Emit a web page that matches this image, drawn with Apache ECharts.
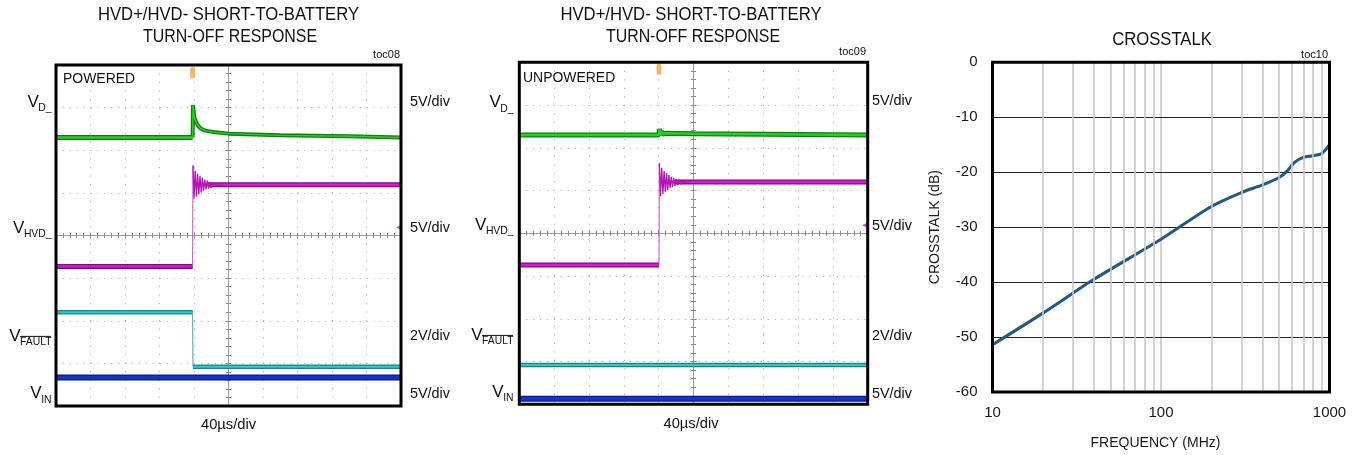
<!DOCTYPE html>
<html><head><meta charset="utf-8">
<script src="https://cdn.jsdelivr.net/npm/echarts@6/dist/echarts.min.js"></script>
<style>html,body{margin:0;padding:0;background:#fff}#c{width:1357px;height:455px}</style>
</head><body><div id="c"></div>
<script>
// ---------- DATA (scope traces in divisions, x: -5..5, y: -4..4) ----------
// Panel 1: POWERED
const p1_vd_pre  = [[-5,2.30],[-1.04,2.30]];
const p1_vd_post = [[-1.04,2.30],[-1.03,3.06],[-0.99,2.76],[-0.90,2.60],[-0.81,2.51],[-0.67,2.46],[-0.38,2.42],[0,2.39],[1.5,2.35],[3.5,2.33],[5,2.30]];
const p1_hvd_pre  = [[-5,-0.725],[-1.04,-0.725]];
const p1_hvd_edge = [[-1.04,-0.725],[-1.03,1.64]];
const p1_hvd_ring = [[-1.03,1.64],[-1.00,0.87],[-0.965,1.52],[-0.93,0.91],[-0.896,1.45],[-0.861,0.96],[-0.826,1.40],[-0.791,1.01],[-0.757,1.36],[-0.722,1.05],[-0.687,1.31],[-0.652,1.08],[-0.617,1.29],[-0.58,1.10],[-0.545,1.26],[-0.507,1.12],[-0.464,1.24],[-0.406,1.15],[-0.348,1.22],[-0.26,1.17],[-0.174,1.19]];
const p1_hvd_post = [[-0.60,1.19],[5,1.19]];
const p1_fault_pre  = [[-5,-1.80],[-1.04,-1.80]];
const p1_fault_edge = [[-1.04,-1.80],[-1.03,-3.08]];
const p1_fault_post = [[-1.03,-3.08],[5,-3.08]];
const p1_vin = [[-5,-3.33],[5,-3.33]];
const p1_trigger = [-1.04,3.82];
const p1_ground = [4.93,0.19];

// Panel 2: UNPOWERED
const p2_vd = [[-5,2.30],[-0.99,2.30],[-0.98,2.44],[-0.95,2.31],[-0.92,2.38],[-0.88,2.32],[-0.80,2.34],[0,2.33],[5,2.30]];
const p2_hvd_pre  = [[-5,-0.74],[-0.99,-0.74]];
const p2_hvd_edge = [[-0.99,-0.74],[-0.981,1.64]];
const p2_hvd_ring = [[-0.981,1.64],[-0.947,0.87],[-0.913,1.53],[-0.878,0.92],[-0.844,1.46],[-0.809,0.97],[-0.775,1.41],[-0.741,1.01],[-0.706,1.36],[-0.672,1.06],[-0.638,1.32],[-0.603,1.08],[-0.569,1.29],[-0.532,1.11],[-0.497,1.27],[-0.46,1.13],[-0.417,1.25],[-0.36,1.15],[-0.302,1.22],[-0.216,1.18],[-0.13,1.20]];
const p2_hvd_post = [[-0.55,1.20],[5,1.20]];
const p2_fault = [[-5,-3.08],[5,-3.08]];
const p2_vin = [[-5,-3.87],[5,-3.87]];
const p2_trigger = [-0.99,3.84];
const p2_ground = [4.91,0.19];

// Panel 3: CROSSTALK
const freqMHz     = [10,20,40,100,200,300,400,500,560,620,700,800,900,1000];
const crosstalkDb = [-51.4,-45.6,-39.5,-32.2,-26.2,-23.7,-22.3,-21.0,-19.8,-18.2,-17.3,-17.0,-16.6,-15.0];
const minorFreqs  = [20,30,40,50,60,70,80,90,200,300,400,500,600,700,800,900];
const yTicksDb    = [0,-10,-20,-30,-40,-50,-60];
const xTickLabels = [10,100,1000];

// ---------- TEXT ----------
const FONT = '"Liberation Sans", Arial, sans-serif';
const cv = document.createElement('canvas').getContext('2d');
function measure(t, size){ cv.font = size + 'px "Liberation Sans"'; return cv.measureText(t).width; }
const graphics = [];
function T(x, y, text, size, align, sx, color){
  graphics.push({type:'text', x:x, y:y, scaleX:sx||1, z:20,
    style:{text:text, fontSize:size, fontFamily:FONT, fill:color||'#111',
      align:align||'left', verticalAlign:'middle', textAlign:align||'left', textVerticalAlign:'middle'}});
}
function chanLabel(xr, vy, sub, over){
  const subSize = 11.5, subSx = 0.9;
  const ws = measure(sub, subSize) * subSx;
  const xs = xr - ws;
  T(xs + 0.5, vy, 'V', 17, 'right', 1);
  T(xs, vy + 6, sub, subSize, 'left', subSx);
  if (over) {
    const oy = vy + 6 - 4.3 - 1.6;
    graphics.push({type:'line', z:20, shape:{x1:xs, y1:oy, x2:xr - 0.5, y2:oy}, style:{stroke:'#111', lineWidth:1}});
  }
}
// Panel 1
T(228.5, 15, 'HVD+/HVD- SHORT-TO-BATTERY', 18.5, 'center', 0.9);
T(230, 37, 'TURN-OFF RESPONSE', 18.5, 'center', 0.86);
T(400, 55, 'toc08', 11, 'right', 1);
T(63, 78.5, 'POWERED', 15, 'left', 0.93);
chanLabel(51.5, 102, 'D_');
chanLabel(51.5, 228.3, 'HVD_');
chanLabel(51.5, 336.3, 'FAULT', true);
chanLabel(51.5, 393.7, 'IN');
T(410, 102, '5V/div', 15, 'left', 0.96);
T(410, 227.5, '5V/div', 15, 'left', 0.96);
T(410, 336, '2V/div', 15, 'left', 0.96);
T(410, 393.5, '5V/div', 15, 'left', 0.96);
T(228.5, 425, '40µs/div', 15, 'center', 0.98);
// Panel 2
T(691, 15, 'HVD+/HVD- SHORT-TO-BATTERY', 18.5, 'center', 0.9);
T(693, 37, 'TURN-OFF RESPONSE', 18.5, 'center', 0.86);
T(866, 52, 'toc09', 11, 'right', 1);
T(523, 77.5, 'UNPOWERED', 15, 'left', 0.93);
chanLabel(513.5, 102.5, 'D_');
chanLabel(513.5, 225.3, 'HVD_');
chanLabel(513.5, 335.3, 'FAULT', true);
chanLabel(513.5, 392, 'IN');
T(872, 101, '5V/div', 15, 'left', 0.96);
T(872, 226, '5V/div', 15, 'left', 0.96);
T(872, 336, '2V/div', 15, 'left', 0.96);
T(872, 393.5, '5V/div', 15, 'left', 0.96);
T(691, 423.5, '40µs/div', 15, 'center', 0.98);
// Panel 3
T(1162, 40, 'CROSSTALK', 18.5, 'center', 0.9);
T(1328, 55, 'toc10', 11, 'right', 1);

// ---------- AXES ----------
function scopeX(g, pos, split){
  return {gridIndex:g, type:'value', min:-5, max:5, interval:1, position:pos,
    axisLabel:{show:false},
    axisLine:{show:true, onZero:true, lineStyle:{color:'#9a9a9a', width:1}},
    axisTick:{show:true, length:3, lineStyle:{color:'#8a8a8a'}},
    minorTick:{show:true, splitNumber:5, length:2.5, lineStyle:{color:'#8a8a8a'}},
    splitLine:{show:split, lineStyle:{color:'#b0b0b0', width:1, type:[1.2,7.3]}}};
}
function scopeY(g, pos, split){
  return {gridIndex:g, type:'value', min:-4, max:4, interval:1, position:pos,
    axisLabel:{show:false},
    axisLine:{show:true, onZero:true, lineStyle:{color:'#9a9a9a', width:1}},
    axisTick:{show:true, length:3, lineStyle:{color:'#8a8a8a'}},
    minorTick:{show:true, splitNumber:5, length:2.5, lineStyle:{color:'#8a8a8a'}},
    splitLine:{show:split, lineStyle:{color:'#b0b0b0', width:1, type:[1.2,5.7]}}};
}

// ---------- SERIES ----------
const series = [];
function band(data, xi, yi, dark, bright, w, z){
  series.push({type:'line', xAxisIndex:xi, yAxisIndex:yi, data:data, symbol:'none', z:z, silent:true,
    lineStyle:{color:dark, width:w}});
  series.push({type:'line', xAxisIndex:xi, yAxisIndex:yi, data:data, symbol:'none', z:z+0.1, silent:true,
    lineStyle:{color:bright, width:Math.max(1, w-2.6)}});
}
function thin(data, xi, yi, color, w, z){
  series.push({type:'line', xAxisIndex:xi, yAxisIndex:yi, data:data, symbol:'none', z:z, silent:true,
    lineStyle:{color:color, width:w}});
}
const G = {dark:'#0d7f0d', bright:'#25cf25'}, M = {dark:'#8e008e', bright:'#cf20cf'},
      C = {dark:'#148787', bright:'#34c6c6'}, B = {dark:'#0a1a96', bright:'#1733c4'};
// panel 1
band(p1_vin, 0, 0, B.dark, B.bright, 6, 3);
band(p1_fault_pre, 0, 0, C.dark, C.bright, 4.5, 4);
thin(p1_fault_edge, 0, 0, '#3aa9a9', 1, 4);
band(p1_fault_post, 0, 0, C.dark, C.bright, 4.5, 4);
band(p1_hvd_pre, 0, 0, M.dark, M.bright, 5, 5);
thin(p1_hvd_edge, 0, 0, '#c94ac9', 1, 5);
band(p1_hvd_post, 0, 0, M.dark, M.bright, 5, 5);
thin(p1_hvd_ring, 0, 0, '#b414b4', 1.3, 5.5);
band(p1_vd_pre, 0, 0, G.dark, G.bright, 5, 6);
band(p1_vd_post, 0, 0, G.dark, G.bright, 4, 6);
// panel 2
band(p2_vin, 2, 2, B.dark, B.bright, 6, 3);
band(p2_fault, 2, 2, C.dark, C.bright, 4.5, 4);
band(p2_hvd_pre, 2, 2, M.dark, M.bright, 5, 5);
thin(p2_hvd_edge, 2, 2, '#c94ac9', 1, 5);
band(p2_hvd_post, 2, 2, M.dark, M.bright, 5, 5);
thin(p2_hvd_ring, 2, 2, '#b414b4', 1.3, 5.5);
band(p2_vd, 2, 2, G.dark, G.bright, 5, 6);
// markers (trigger + ground reference)
function markers(xi, yi, trig, gnd){
  series.push({type:'scatter', xAxisIndex:xi, yAxisIndex:yi, z:7, silent:true,
    data:[{value:trig, symbol:'roundRect', symbolSize:[5,11], itemStyle:{color:'#f2a23a'}},
          {value:gnd, symbol:'triangle', symbolRotate:90, symbolSize:[5,5], itemStyle:{color:'#c21cc2'}}]});
}
markers(0, 0, p1_trigger, p1_ground);
markers(2, 2, p2_trigger, p2_ground);
// panel 3
series.push({type:'line', xAxisIndex:4, yAxisIndex:4, data:[], z:1, silent:true,
  markLine:{silent:true, symbol:['none','none'], label:{show:false}, animation:false,
    lineStyle:{color:'#c8c8c8', width:1.6, type:'solid'},
    data:minorFreqs.map(v => ({xAxis:v}))}});
series.push({type:'line', xAxisIndex:4, yAxisIndex:4, z:3, silent:true, symbol:'none',
  smooth:0.3,
  data:freqMHz.map((f,i) => [f, crosstalkDb[i]]),
  lineStyle:{color:'#245783', width:3}});

const option = {
  animation:false,
  backgroundColor:'#fff',
  graphic:graphics,
  grid:[
    {left:56, top:65, width:345, height:341, show:true, borderColor:'#000', borderWidth:3, z:10, backgroundColor:'transparent'},
    {left:519.3, top:62.3, width:348.4, height:342, show:true, borderColor:'#000', borderWidth:3, z:10, backgroundColor:'transparent'},
    {left:992.5, top:62.3, width:337, height:330.5, show:true, borderColor:'#000', borderWidth:3, z:10, backgroundColor:'transparent'}
  ],
  xAxis:[
    scopeX(0,'bottom',true), scopeX(0,'top',false),
    scopeX(1,'bottom',true), scopeX(1,'top',false),
    {gridIndex:2, type:'log', logBase:10, min:xTickLabels[0], max:xTickLabels[xTickLabels.length-1],
      axisLine:{show:false}, axisTick:{show:false},
      axisLabel:{fontSize:15, fontFamily:FONT, color:'#1a1a1a', margin:13, formatter:v => String(v)},
      splitLine:{show:true, lineStyle:{color:'#c8c8c8', width:1.6}},
      name:'FREQUENCY (MHz)', nameLocation:'middle', nameGap:44,
      nameTextStyle:{fontSize:14, fontFamily:FONT, color:'#1a1a1a', padding:[0,11,0,0]}}
  ],
  yAxis:[
    scopeY(0,'left',true), scopeY(0,'right',false),
    scopeY(1,'left',true), scopeY(1,'right',false),
    {gridIndex:2, type:'value', min:yTicksDb[yTicksDb.length-1], max:yTicksDb[0], interval:10, z:2,
      axisLine:{show:false}, axisTick:{show:false},
      axisLabel:{fontSize:15, fontFamily:FONT, color:'#1a1a1a', margin:15},
      splitLine:{show:true, lineStyle:{color:'#222', width:1}},
      name:'CROSSTALK (dB)', nameLocation:'middle', nameGap:50,
      nameTextStyle:{fontSize:14, fontFamily:FONT, color:'#1a1a1a'}}
  ],
  series:series
};
const chart = echarts.init(document.getElementById('c'), null, {renderer:'canvas'});
chart.setOption(option);
</script>
</body></html>
